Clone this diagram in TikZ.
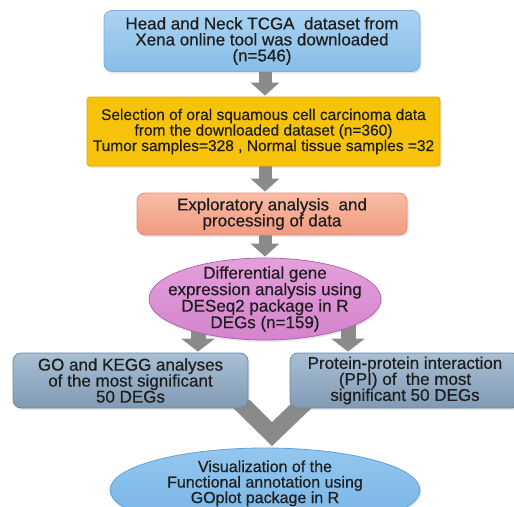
\documentclass[tikz,border=0pt]{standalone}
\usepackage{fontspec}
\setmainfont{Liberation Sans}[BoldFont=Liberation Sans, BoldFeatures={FakeBold=0.5}]
\usetikzlibrary{shapes.geometric,arrows.meta,backgrounds,shadows}
\definecolor{arrowgray}{HTML}{8A8A8A}
\definecolor{blueA}{HTML}{A9D2F1}
\definecolor{blueB}{HTML}{88BEE8}
\definecolor{blueE}{HTML}{7FB0DA}
\definecolor{goldF}{HTML}{F7C20A}
\definecolor{goldE}{HTML}{E2AA00}
\definecolor{salA}{HTML}{F9BCA6}
\definecolor{salB}{HTML}{F09A80}
\definecolor{salE}{HTML}{E49078}
\definecolor{pinkA}{HTML}{E4A0DC}
\definecolor{pinkB}{HTML}{D484CC}
\definecolor{pinkE}{HTML}{B465AC}
\definecolor{steelA}{HTML}{A8BFD4}
\definecolor{steelB}{HTML}{819AB4}
\definecolor{steelE}{HTML}{6E88A3}
\definecolor{lbA}{HTML}{94C7EE}
\definecolor{lbB}{HTML}{74B2E6}
\definecolor{lbE}{HTML}{63A0D6}
\definecolor{txt}{HTML}{1E1E1E}
\begin{document}
\begin{tikzpicture}[x=1pt,y=-1pt,
  every node/.style={align=center, inner sep=0pt, text=txt,
    execute at begin node={\lineskiplimit=-50pt\lineskip=0pt}},
  soft/.style={drop shadow={opacity=0.18, shadow xshift=1.5pt, shadow yshift=-2pt}},
  box/.style={rounded corners=8pt, line width=0.8pt, soft},
  flow/.style={line width=13pt, draw=arrowgray, -{Triangle[width=28pt,length=13pt]}},
  bigflow/.style={line width=15pt, draw=arrowgray, -{Triangle[width=33pt,length=13pt]}},
]
\useasboundingbox (0,0) rectangle (514,506);
\clip (0,0) rectangle (514,506);

\coordinate (ax) at (265,0);
\coordinate (lx) at (198,0);
\coordinate (rx) at (348,0);

% nodes
\node[box, draw=blueE, top color=blueA, bottom color=blueB,
      minimum width=316pt, minimum height=61pt,
      font=\fontsize{17}{16}\selectfont\bfseries] (b1) at (262,41)
  {Head and Neck TCGA\ \ dataset from\\Xena online tool was downloaded\\(n=546)};

\node[box, rounded corners=3pt, draw=goldE, fill=goldF,
      minimum width=353pt, minimum height=69pt,
      font=\fontsize{15.5}{15.5}\selectfont\bfseries] (b2) at (263.5,131.5)
  {Selection of oral squamous cell carcinoma data\\from the downloaded dataset (n=360)\\Tumor samples=328 , Normal tissue samples =32};

\node[box, draw=salE, top color=salA, bottom color=salB,
      minimum width=270pt, minimum height=42pt,
      font=\fontsize{17}{16}\selectfont\bfseries] (b3) at (272,214)
  {Exploratory analysis\ \ and\\processing of data};

\node[ellipse, soft, draw=pinkE, line width=0.8pt, top color=pinkA, bottom color=pinkB,
      inner xsep=-30pt, inner ysep=-12pt,
      minimum width=232pt, minimum height=82pt,
      font=\fontsize{17}{16.5}\selectfont\bfseries] (e1) at (265,299)
  {Differential gene\\expression analysis using\\DESeq2 package in R\\DEGs (n=159)};

\node[box, draw=steelE, top color=steelA, bottom color=steelB,
      minimum width=235pt, minimum height=55pt,
      font=\fontsize{17}{16}\selectfont\bfseries] (b4) at (130.5,380.5)
  {GO and KEGG analyses\\of the most significant\\50 DEGs};

\node[box, draw=steelE, top color=steelA, bottom color=steelB,
      minimum width=230pt, minimum height=55pt,
      font=\fontsize{17}{16}\selectfont\bfseries] (b5) at (405,380.5)
  {Protein-protein interaction\\(PPI) of\ \ the most\\significant 50 DEGs};

\node[ellipse, soft, draw=lbE, line width=0.8pt, top color=lbA, bottom color=lbB,
      inner xsep=-10pt, inner ysep=-12pt,
      minimum width=310pt, minimum height=84pt,
      font=\fontsize{16}{15.5}\selectfont\bfseries] (e2) at (265,490)
  {Visualization of the\\Functional annotation using\\GOplot package in R\\[1pt]};

% connectors behind nodes
\begin{pgfonlayer}{background}
  \draw[flow] (b1.center -| ax) -- ([yshift=1pt]b2.north -| ax);
  \draw[flow] (b2.center -| ax) -- ([yshift=1pt]b3.north -| ax);
  \draw[flow] (b3.center -| ax) -- ([yshift=1pt]e1.north -| ax);
  \draw[bigflow] (e1.center -| lx) -- ([yshift=1pt]b4.north -| lx);
  \draw[bigflow] (e1.center -| rx) -- ([yshift=1pt]b5.north -| rx);
  % merging chevron
  \fill[arrowgray] (225,400) -- (250,400) -- (272,422) -- (295,400) -- (320,400)
     -- (272,446) -- cycle;
\end{pgfonlayer}
\end{tikzpicture}
\end{document}
